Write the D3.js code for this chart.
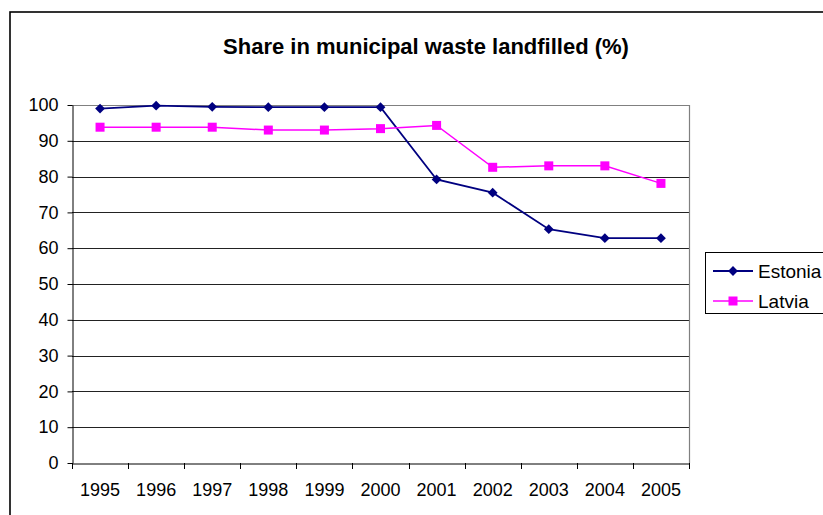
<!DOCTYPE html>
<html>
<head>
<meta charset="utf-8">
<script src="https://cdn.jsdelivr.net/npm/d3@7"></script>
<style>
  html, body { margin: 0; padding: 0; background: #fff; }
  svg { display: block; font-family: "Liberation Sans", Arial, sans-serif; }
</style>
</head>
<body>
<svg id="chart" width="823" height="515"></svg>
<script>
// Share of municipal waste landfilled, Estonia vs Latvia
const years = ["1995", "1996", "1997", "1998", "1999", "2000", "2001", "2002", "2003", "2004", "2005"];
const estonia = [99.0, 99.8, 99.5, 99.4, 99.4, 99.4, 79.2, 75.5, 65.3, 62.8, 62.8];
const latvia  = [93.8, 93.8, 93.8, 93.0, 93.0, 93.4, 94.3, 82.6, 83.0, 83.0, 78.1];
const yTicks = [0, 10, 20, 30, 40, 50, 60, 70, 80, 90, 100];
const seriesNames = ["Estonia", "Latvia"];

const svg = d3.select("#chart");

const plot = { left: 72, right: 689, top: 105, bottom: 463 };
const labelFont = 18;

const x = d3.scaleBand().domain(years).range([plot.left, plot.right]).padding(0);
const y = d3.scaleLinear().domain([0, 100]).range([plot.bottom, plot.top]);

// outer chart frame (extends past the visible area on right and bottom)
svg.append("rect")
  .attr("x", 10).attr("y", 12)
  .attr("width", 900).attr("height", 600)
  .attr("fill", "none").attr("stroke", "#000").attr("stroke-width", 1.6);

// title
svg.append("text")
  .attr("x", 426).attr("y", 54)
  .attr("text-anchor", "middle")
  .attr("font-size", 22).attr("font-weight", "bold")
  .text("Share in municipal waste landfilled (%)");

// horizontal gridlines
svg.append("g")
  .selectAll("line")
  .data(yTicks.filter(d => d > 0 && d < 100))
  .join("line")
  .attr("x1", plot.left).attr("x2", plot.right)
  .attr("y1", d => Math.round(y(d)) + 0.5).attr("y2", d => Math.round(y(d)) + 0.5)
  .attr("stroke", "#222").attr("stroke-width", 1);

// plot area top and right border
svg.append("path")
  .attr("d", `M${plot.left},${plot.top + 0.5}H${plot.right + 0.5}V${plot.bottom}`)
  .attr("fill", "none").attr("stroke", "#808080").attr("stroke-width", 1.2);

// y axis
const yAxis = svg.append("g")
  .attr("transform", `translate(${plot.left + 0.5},0)`)
  .call(d3.axisLeft(y).tickValues(yTicks).tickSize(5).tickPadding(9).tickSizeOuter(0));
yAxis.select(".domain").attr("stroke", "#000");
yAxis.selectAll(".tick line").attr("stroke", "#000");
yAxis.selectAll(".tick text").attr("font-size", labelFont).attr("fill", "#000")
  .attr("font-family", "Liberation Sans, Arial, sans-serif");

// x axis: labels centred on categories, ticks on category boundaries
const xAxis = svg.append("g")
  .attr("transform", `translate(0,${plot.bottom + 0.5})`)
  .call(d3.axisBottom(x).tickSize(0).tickPadding(20).tickSizeOuter(0));
xAxis.select(".domain").attr("stroke", "#000");
xAxis.selectAll(".tick text").attr("font-size", labelFont).attr("fill", "#000")
  .attr("font-family", "Liberation Sans, Arial, sans-serif");

const bounds = d3.range(years.length + 1).map(i => plot.left + i * x.step());
svg.append("g")
  .selectAll("line")
  .data(bounds)
  .join("line")
  .attr("x1", d => Math.round(d) + 0.5).attr("x2", d => Math.round(d) + 0.5)
  .attr("y1", plot.bottom).attr("y2", plot.bottom + 6)
  .attr("stroke", "#000");

const cx = (d, i) => x(years[i]) + x.bandwidth() / 2;
const line = d3.line().x((d, i) => cx(d, i)).y(d => y(d));

const diamondPath = d3.symbol().type(d3.symbolSquare).size(48);

// Estonia
svg.append("path").datum(estonia)
  .attr("d", line).attr("fill", "none")
  .attr("stroke", "#000080").attr("stroke-width", 1.8);
svg.append("g").selectAll("path")
  .data(estonia).join("path")
  .attr("d", diamondPath)
  .attr("transform", (d, i) => `translate(${cx(d, i)},${y(d)}) rotate(45)`)
  .attr("fill", "#000080");

// Latvia
svg.append("path").datum(latvia)
  .attr("d", line).attr("fill", "none")
  .attr("stroke", "#FF00FF").attr("stroke-width", 1.5);
svg.append("g").selectAll("rect")
  .data(latvia).join("rect")
  .attr("x", (d, i) => cx(d, i) - 4.5).attr("y", d => y(d) - 4.5)
  .attr("width", 9).attr("height", 9)
  .attr("fill", "#FF00FF");

// legend
const legend = svg.append("g");
legend.append("rect")
  .attr("x", 705.5).attr("y", 252.5)
  .attr("width", 140).attr("height", 61)
  .attr("fill", "#fff").attr("stroke", "#000").attr("stroke-width", 1);

const legendRows = [
  { name: seriesNames[0], color: "#000080", y: 271, marker: "diamond", w: 1.8 },
  { name: seriesNames[1], color: "#FF00FF", y: 301, marker: "square", w: 1.5 }
];
legendRows.forEach(r => {
  legend.append("line")
    .attr("x1", 713).attr("x2", 753).attr("y1", r.y).attr("y2", r.y)
    .attr("stroke", r.color).attr("stroke-width", r.w);
  if (r.marker === "diamond") {
    legend.append("path")
      .attr("d", diamondPath)
      .attr("transform", `translate(733,${r.y}) rotate(45)`)
      .attr("fill", r.color);
  } else {
    legend.append("rect")
      .attr("x", 728.5).attr("y", r.y - 4.5).attr("width", 9).attr("height", 9)
      .attr("fill", r.color);
  }
  legend.append("text")
    .attr("x", 758).attr("y", r.y + 6.5)
    .attr("font-size", 19).attr("fill", "#000")
    .text(r.name);
});
</script>
</body>
</html>
